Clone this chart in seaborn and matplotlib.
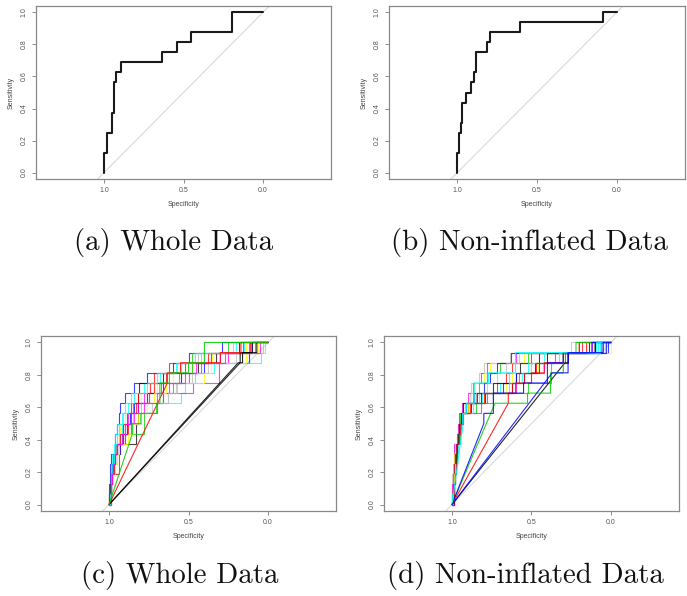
import matplotlib
matplotlib.use("Agg")
import matplotlib.pyplot as plt
import seaborn as sns
import numpy as np
import pandas as pd

# ---------------- data ----------------
sens_levels = [k / 16 for k in range(1, 17)]

# (a) whole data: specificity at which each sensitivity step happens
a_spec = [1.0, 0.981, 0.948, 0.937, 0.927, 0.893, 0.637, 0.539, 0.453, 0.195, 0.0]
a_sens = [0.125, 0.25, 0.375, 0.5625, 0.625, 0.6875, 0.75, 0.8125, 0.875, 1.0, 1.0]

# (b) non-inflated data
b_spec = [1.0, 0.987, 0.979, 0.971, 0.948, 0.914, 0.893, 0.881, 0.812, 0.793, 0.605, 0.088, 0.0]
b_sens = [0.125, 0.25, 0.3125, 0.4375, 0.5, 0.5625, 0.625, 0.75, 0.8125, 0.875, 0.9375, 1.0, 1.0]

# (c) repeated ROC curves, whole data (spec where each 1/16 step is reached)
c_step_colors = ["blue", "cyan", "magenta", "yellow", "gray", "black", "red", "green3",
                 "blue", "cyan", "magenta", "yellow", "gray", "red", "cyan", "magenta"]
c_step_specs = [
    [1.00, 1.00, 0.995, 0.995, 0.99, 0.96, 0.96, 0.95, 0.94, 0.93, 0.90, 0.84, 0.76, 0.60, 0.50, 0.29],
    [1.00, 0.995, 0.99, 0.99, 0.98, 0.97, 0.96, 0.952, 0.92, 0.90, 0.86, 0.78, 0.68, 0.57, 0.42, 0.20],
    [0.995, 0.99, 0.99, 0.98, 0.975, 0.95, 0.93, 0.91, 0.88, 0.85, 0.78, 0.62, 0.50, 0.42, 0.30, 0.12],
    [1.00, 0.99, 0.98, 0.975, 0.97, 0.955, 0.94, 0.93, 0.90, 0.86, 0.80, 0.70, 0.60, 0.48, 0.35, 0.14],
    [0.99, 0.99, 0.985, 0.97, 0.96, 0.94, 0.92, 0.90, 0.85, 0.70, 0.63, 0.58, 0.55, 0.55, 0.44, 0.22],
    [1.00, 0.995, 0.99, 0.975, 0.965, 0.955, 0.83, 0.83, 0.82, 0.82, 0.815, 0.81, 0.66, 0.44, 0.33, 0.18],
    [0.995, 0.99, 0.985, 0.94, 0.94, 0.93, 0.90, 0.88, 0.86, 0.83, 0.75, 0.72, 0.72, 0.62, 0.36, 0.16],
    [0.99, 0.985, 0.98, 0.975, 0.97, 0.95, 0.92, 0.78, 0.78, 0.70, 0.66, 0.60, 0.56, 0.476, 0.476, 0.25],
    [0.995, 0.99, 0.985, 0.98, 0.96, 0.93, 0.91, 0.89, 0.87, 0.84, 0.76, 0.66, 0.55, 0.40, 0.12, 0.10],
    [0.99, 0.99, 0.98, 0.97, 0.95, 0.94, 0.93, 0.92, 0.89, 0.80, 0.547, 0.52, 0.46, 0.34, 0.045, 0.03],
    [0.99, 0.985, 0.98, 0.97, 0.96, 0.95, 0.90, 0.86, 0.84, 0.82, 0.66, 0.474, 0.31, 0.31, 0.25, 0.08],
    [0.995, 0.985, 0.977, 0.96, 0.95, 0.94, 0.88, 0.85, 0.82, 0.76, 0.72, 0.64, 0.40, 0.36, 0.14, 0.06],
    [0.99, 0.985, 0.98, 0.97, 0.96, 0.955, 0.94, 0.90, 0.80, 0.73, 0.63, 0.57, 0.48, 0.38, 0.20, 0.02],
    [1.00, 0.99, 0.98, 0.97, 0.96, 0.95, 0.93, 0.91, 0.89, 0.86, 0.82, 0.74, 0.64, 0.52, 0.38, 0.11],
    [0.995, 0.99, 0.985, 0.98, 0.97, 0.96, 0.95, 0.94, 0.91, 0.88, 0.84, 0.76, 0.70, 0.58, 0.46, 0.15],
    [0.99, 0.985, 0.98, 0.975, 0.965, 0.95, 0.92, 0.90, 0.86, 0.78, 0.70, 0.67, 0.52, 0.45, 0.27, 0.05],
]
# (c) curves with a straight (tied) segment: vertices (specificity, sensitivity)
c_line_colors = ["black", "black", "red", "green3"]
c_line_spec = [
    [1.0, 0.187, 0.16, 0.16, 0.07, 0.07, 0.0],
    [1.0, 0.175, 0.175, 0.10, 0.10, 0.0],
    [1.0, 0.633, 0.633, 0.55, 0.55, 0.30, 0.30, 0.17, 0.17, 0.0],
    [1.0, 0.853, 0.853, 0.80, 0.80, 0.70, 0.70, 0.68, 0.68, 0.62, 0.62, 0.50, 0.50, 0.40, 0.40, 0.0],
]
c_line_sens = [
    [0.0, 0.875, 0.875, 0.9375, 0.9375, 1.0, 1.0],
    [0.0, 0.875, 0.9375, 0.9375, 1.0, 1.0],
    [0.0, 0.75, 0.8125, 0.8125, 0.875, 0.875, 0.9375, 0.9375, 1.0, 1.0],
    [0.0, 0.4375, 0.5, 0.5, 0.5625, 0.5625, 0.625, 0.625, 0.75, 0.75, 0.8125, 0.8125, 0.875, 0.875, 1.0, 1.0],
]

# (d) repeated ROC curves, non-inflated data
d_step_colors = ["gray", "magenta", "yellow", "green3", "blue", "black", "red", "cyan",
                 "gray", "magenta", "yellow", "green3", "blue", "black", "cyan", "red"]
d_step_specs = [
    [1.0, 1.0, 1.0, 0.995, 0.99, 0.99, 0.97, 0.96, 0.955, 0.94, 0.89, 0.88, 0.83, 0.80, 0.637, 0.25],
    [1.0, 1.0, 0.995, 0.99, 0.99, 0.985, 0.97, 0.96, 0.955, 0.94, 0.90, 0.87, 0.82, 0.78, 0.60, 0.20],
    [1.0, 0.995, 0.99, 0.99, 0.985, 0.98, 0.965, 0.95, 0.94, 0.92, 0.88, 0.86, 0.80, 0.76, 0.55, 0.15],
    [1.0, 0.995, 0.99, 0.985, 0.98, 0.975, 0.96, 0.955, 0.95, 0.93, 0.87, 0.83, 0.78, 0.70, 0.52, 0.06],
    [0.995, 0.99, 0.99, 0.985, 0.98, 0.975, 0.96, 0.95, 0.94, 0.91, 0.86, 0.80, 0.76, 0.72, 0.63, 0.02],
    [0.995, 0.99, 0.985, 0.98, 0.975, 0.97, 0.955, 0.95, 0.93, 0.90, 0.79, 0.62, 0.60, 0.57, 0.45, 0.10],
    [1.0, 0.995, 0.99, 0.985, 0.98, 0.975, 0.96, 0.955, 0.945, 0.90, 0.85, 0.72, 0.66, 0.62, 0.50, 0.18],
    [1.0, 0.99, 0.985, 0.98, 0.975, 0.97, 0.955, 0.95, 0.935, 0.88, 0.83, 0.70, 0.64, 0.50, 0.42, 0.08],
    [0.995, 0.99, 0.985, 0.98, 0.975, 0.97, 0.96, 0.95, 0.945, 0.92, 0.85, 0.78, 0.72, 0.66, 0.58, 0.04],
    [0.99, 0.985, 0.98, 0.975, 0.97, 0.97, 0.955, 0.95, 0.94, 0.82, 0.78, 0.60, 0.58, 0.42, 0.35, 0.12],
    [0.995, 0.99, 0.985, 0.98, 0.975, 0.97, 0.96, 0.955, 0.94, 0.90, 0.80, 0.66, 0.62, 0.46, 0.40, 0.0],
    [0.995, 0.99, 0.98, 0.975, 0.97, 0.97, 0.95, 0.945, 0.935, 0.85, 0.74, 0.525, 0.38, 0.38, 0.30, 0.05],
    [0.99, 0.985, 0.98, 0.975, 0.97, 0.97, 0.955, 0.95, 0.94, 0.88, 0.84, 0.68, 0.60, 0.45, 0.27, 0.03],
    [0.99, 0.985, 0.98, 0.975, 0.975, 0.97, 0.96, 0.955, 0.945, 0.93, 0.82, 0.74, 0.55, 0.48, 0.40, 0.14],
    [0.995, 0.985, 0.98, 0.975, 0.97, 0.965, 0.955, 0.95, 0.94, 0.87, 0.81, 0.64, 0.56, 0.52, 0.33, 0.07],
    [0.99, 0.985, 0.98, 0.975, 0.97, 0.97, 0.955, 0.95, 0.93, 0.89, 0.80, 0.62, 0.55, 0.47, 0.29, 0.16],
]
d_line_colors = ["black", "red", "green3", "blue", "cyan", "blue"]
d_line_spec = [
    [1.0, 0.29, 0.27, 0.27, 0.10, 0.10, 0.0],
    [1.0, 0.646, 0.646, 0.60, 0.60, 0.50, 0.50, 0.42, 0.42, 0.30, 0.30, 0.20, 0.20, 0.0],
    [1.0, 0.73, 0.525, 0.525, 0.38, 0.38, 0.30, 0.30, 0.22, 0.22, 0.0],
    [1.0, 0.80, 0.80, 0.74, 0.74, 0.55, 0.55, 0.40, 0.40, 0.30, 0.30, 0.12, 0.12, 0.0],
    [1.0, 0.93, 0.93, 0.91, 0.91, 0.86, 0.86, 0.77, 0.77, 0.60, 0.60, 0.09, 0.09, 0.0],
    [1.0, 0.37, 0.27, 0.27, 0.05, 0.05, 0.0],
]
d_line_sens = [
    [0.0, 0.875, 0.875, 0.9375, 0.9375, 1.0, 1.0],
    [0.0, 0.625, 0.6875, 0.6875, 0.75, 0.75, 0.8125, 0.8125, 0.875, 0.875, 0.9375, 0.9375, 1.0, 1.0],
    [0.0, 0.625, 0.625, 0.6875, 0.6875, 0.8125, 0.8125, 0.9375, 0.9375, 1.0, 1.0],
    [0.0, 0.5, 0.5625, 0.5625, 0.6875, 0.6875, 0.75, 0.75, 0.875, 0.875, 0.9375, 0.9375, 1.0, 1.0],
    [0.0, 0.5, 0.5625, 0.5625, 0.625, 0.625, 0.75, 0.75, 0.8125, 0.8125, 0.9375, 0.9375, 1.0, 1.0],
    [0.0, 0.8125, 0.8125, 0.9375, 0.9375, 1.0, 1.0],
]

captions = ["(a) Whole Data", "(b) Non-inflated Data", "(c) Whole Data", "(d) Non-inflated Data"]
x_ticks = [1.0, 0.5, 0.0]
y_ticks = [0.0, 0.2, 0.4, 0.6, 0.8, 1.0]

r_colors = {"black": "#000000", "red": "#FF0000", "green3": "#00CD00", "blue": "#0000FF",
            "cyan": "#00FFFF", "magenta": "#FF00FF", "yellow": "#FFFF00", "gray": "#BEBEBE"}

# ---------------- helpers ----------------
def step_path(specs, sens):
    xs, ys = [1.0], [0.0]
    prev = 0.0
    for s, v in zip(specs, sens):
        xs += [s, s]
        ys += [prev, v]
        prev = v
    xs.append(0.0)
    ys.append(prev)
    return xs, ys


def draw_curve(ax, xs, ys, color, lw, alpha=1.0):
    df = pd.DataFrame({"spec": xs, "sens": ys})
    sns.lineplot(data=df, x="spec", y="sens", sort=False, estimator=None,
                 color=color, lw=lw, alpha=alpha, ax=ax, legend=False)


sns.set_theme(style="white")
plt.rcParams["font.family"] = ["Liberation Sans", "DejaVu Sans"]

W, H = 687, 596
fig = plt.figure(figsize=(W / 100, H / 100), dpi=100)
boxes = [(36, 6, 331, 179), (389, 6, 685, 179), (41, 336, 336, 511), (384, 336, 679, 511)]
axes = []
for (l, t, r, b) in boxes:
    axes.append(fig.add_axes([l / W, 1 - b / H, (r - l) / W, (b - t) / H]))

for ax in axes:
    ax.axline((1.0, 0.0), (0.0, 1.0), color="#d9d9d9", lw=0.8, zorder=0)

# (a) and (b)
xs, ys = step_path(a_spec, a_sens)
draw_curve(axes[0], xs, ys, "#1a1a1a", 1.5)
xs, ys = step_path(b_spec, b_sens)
draw_curve(axes[1], xs, ys, "#1a1a1a", 1.5)

# (c)
for col, sp in zip(c_step_colors, c_step_specs):
    xs, ys = step_path(sp, sens_levels)
    draw_curve(axes[2], xs, ys, r_colors[col], 0.8, 0.75)
for col, sx, sy in zip(c_line_colors, c_line_spec, c_line_sens):
    draw_curve(axes[2], sx, sy, r_colors[col], 0.8, 0.85)

# (d)
for col, sp in zip(d_step_colors, d_step_specs):
    xs, ys = step_path(sp, sens_levels)
    draw_curve(axes[3], xs, ys, r_colors[col], 0.8, 0.75)
for col, sx, sy in zip(d_line_colors, d_line_spec, d_line_sens):
    draw_curve(axes[3], sx, sy, r_colors[col], 0.8, 0.85)

for ax in axes:
    ax.set_xlim(1.428, -0.428)
    ax.set_ylim(-0.04, 1.04)
    ax.set_xticks(x_ticks)
    ax.set_xticklabels([f"{v:.1f}" for v in x_ticks])
    ax.set_yticks(y_ticks)
    ax.set_yticklabels([f"{v:.1f}" for v in y_ticks], rotation=90, va="center")
    ax.tick_params(axis="both", direction="out", length=3, width=0.6, color="#777777",
                   labelsize=5, labelcolor="#555555", pad=3, bottom=True, left=True)
    for sp in ax.spines.values():
        sp.set_color("#888888")
        sp.set_linewidth(0.9)
    ax.set_xlabel("Specificity", fontsize=5, color="#444444", labelpad=5)
    ax.set_ylabel("Sensitivity", fontsize=5, color="#444444", labelpad=4)

cap_pos = [(174, 243), (529, 243), (180, 576), (525, 576)]
for (cx, cy), txt in zip(cap_pos, captions):
    fig.text(cx / W, 1 - cy / H, txt, family="cmr10", fontsize=20.8,
             ha="center", va="center", color="#111111")

fig.savefig("out.png", dpi=100)
